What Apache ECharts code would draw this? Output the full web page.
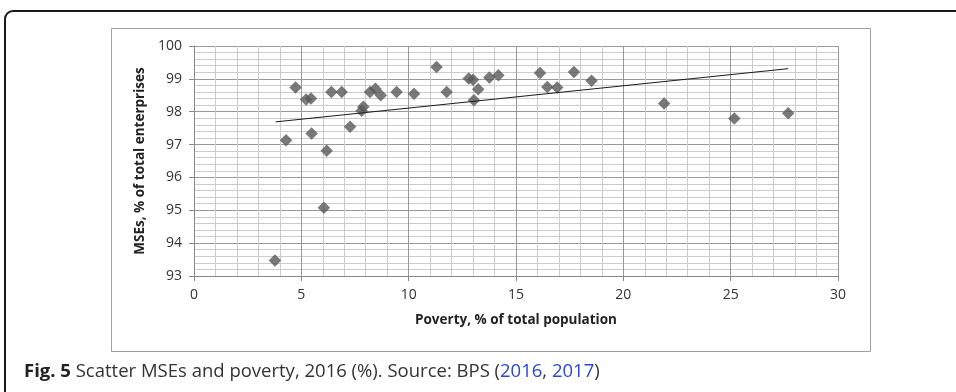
<!DOCTYPE html>
<html>
<head>
<meta charset="utf-8">
<script src="https://cdn.jsdelivr.net/npm/echarts@6/dist/echarts.min.js"></script>
<style>
html,body{margin:0;padding:0;background:#fff;}
#chart{width:956px;height:392px;}
</style>
</head>
<body>
<div id="chart"></div>
<script>
// Poverty (% of total population)
const povertyX = [3.77, 4.29, 4.73, 5.22, 5.45, 5.48, 6.05, 6.18, 6.40, 6.88, 7.27, 7.81, 7.89,
  8.20, 8.45, 8.70, 9.44, 10.25, 11.30, 11.77, 12.80, 13.00, 13.24, 13.04, 13.76, 14.18,
  16.12, 16.46, 16.92, 17.70, 18.52, 21.90, 25.17, 27.68];
// MSEs (% of total enterprises)
const msesY = [93.47, 97.13, 98.74, 98.37, 98.40, 97.34, 95.08, 96.81, 98.60, 98.60, 97.54, 98.03, 98.15,
  98.60, 98.70, 98.50, 98.60, 98.55, 99.36, 98.60, 99.01, 98.97, 98.68, 98.35, 99.04, 99.11,
  99.18, 98.75, 98.74, 99.21, 98.94, 98.25, 97.79, 97.95];
// Linear trendline end points as drawn
const trendX = [3.8, 27.68];
const trendY = [97.69, 99.31];

const xTickLabels = ['0', '5', '10', '15', '20', '25', '30'];
const yTickLabels = ['93', '94', '95', '96', '97', '98', '99', '100'];

const scatterData = povertyX.map((x, i) => [x, msesY[i]]);
const trendData = trendX.map((x, i) => [x, trendY[i]]);

const chart = echarts.init(document.getElementById('chart'), null, {renderer: 'canvas'});
const labelFont = '"Open Sans", "Liberation Sans", sans-serif';

chart.setOption({
  backgroundColor: '#fff',
  animation: false,
  grid: {left: 194, right: 118, top: 46, bottom: 116, containLabel: false},
  xAxis: {
    type: 'value', min: 0, max: 30, interval: 5,
    axisLine: {show: true, lineStyle: {color: '#888', width: 1}},
    axisTick: {show: true, length: 5, lineStyle: {color: '#888'}},
    axisLabel: {
      color: '#333', fontSize: 14, fontFamily: labelFont, margin: 12,
      formatter: (v) => xTickLabels[Math.round(v / 5)]
    },
    splitLine: {show: true, lineStyle: {color: '#999', width: 1}},
    minorTick: {show: false, splitNumber: 5},
    minorSplitLine: {show: true, lineStyle: {color: '#cccccc', width: 1}},
    name: 'Poverty, % of total population',
    nameLocation: 'middle', nameGap: 37,
    nameTextStyle: {color: '#222', fontSize: 13.5, fontWeight: 'bold', fontFamily: labelFont}
  },
  yAxis: {
    type: 'value', min: 93, max: 100, interval: 1,
    axisLine: {show: true, lineStyle: {color: '#888', width: 1}},
    axisTick: {show: true, length: 5, lineStyle: {color: '#888'}},
    axisLabel: {
      color: '#333', fontSize: 14, fontFamily: labelFont, margin: 12,
      formatter: (v) => yTickLabels[Math.round(v - 93)]
    },
    splitLine: {show: true, lineStyle: {color: '#999', width: 1}},
    minorTick: {show: false, splitNumber: 5},
    minorSplitLine: {show: true, lineStyle: {color: '#cccccc', width: 1}},
    name: 'MSEs, % of total enterprises',
    nameLocation: 'middle', nameGap: 39, nameRotate: 90,
    nameTextStyle: {color: '#222', fontSize: 13.5, fontWeight: 'bold', fontFamily: labelFont}
  },
  series: [
    {
      type: 'scatter', data: scatterData, symbol: 'diamond', symbolSize: 12.5,
      itemStyle: {color: '#575757'}, z: 3
    },
    {
      type: 'line', data: trendData, symbol: 'none', showSymbol: false,
      lineStyle: {color: '#1a1a1a', width: 1}, z: 4, silent: true
    }
  ],
  graphic: [
    {
      type: 'rect', silent: true, z: -1,
      shape: {x: 5, y: 11, width: 1000, height: 500, r: 8},
      style: {fill: 'none', stroke: '#1a1a1a', lineWidth: 2}
    },
    {
      type: 'rect', silent: true, z: -1,
      shape: {x: 111.5, y: 28.5, width: 759, height: 323},
      style: {fill: 'none', stroke: '#a0a0a0', lineWidth: 1}
    },
    {
      type: 'text', left: 24, top: 362, silent: true,
      style: {
        text: '{b|Fig. 5} Scatter MSEs and poverty, 2016 (%). Source: BPS ({l|2016}, {l|2017})',
        font: '18.5px "Open Sans", sans-serif', fill: '#333',
        rich: {
          b: {fontWeight: 'bold', fontSize: 18.5, fontFamily: '"Open Sans", sans-serif', fill: '#222'},
          l: {fontSize: 18.5, fontFamily: '"Open Sans", sans-serif', fill: '#2b47d6'}
        }
      }
    }
  ]
});
</script>
</body>
</html>
